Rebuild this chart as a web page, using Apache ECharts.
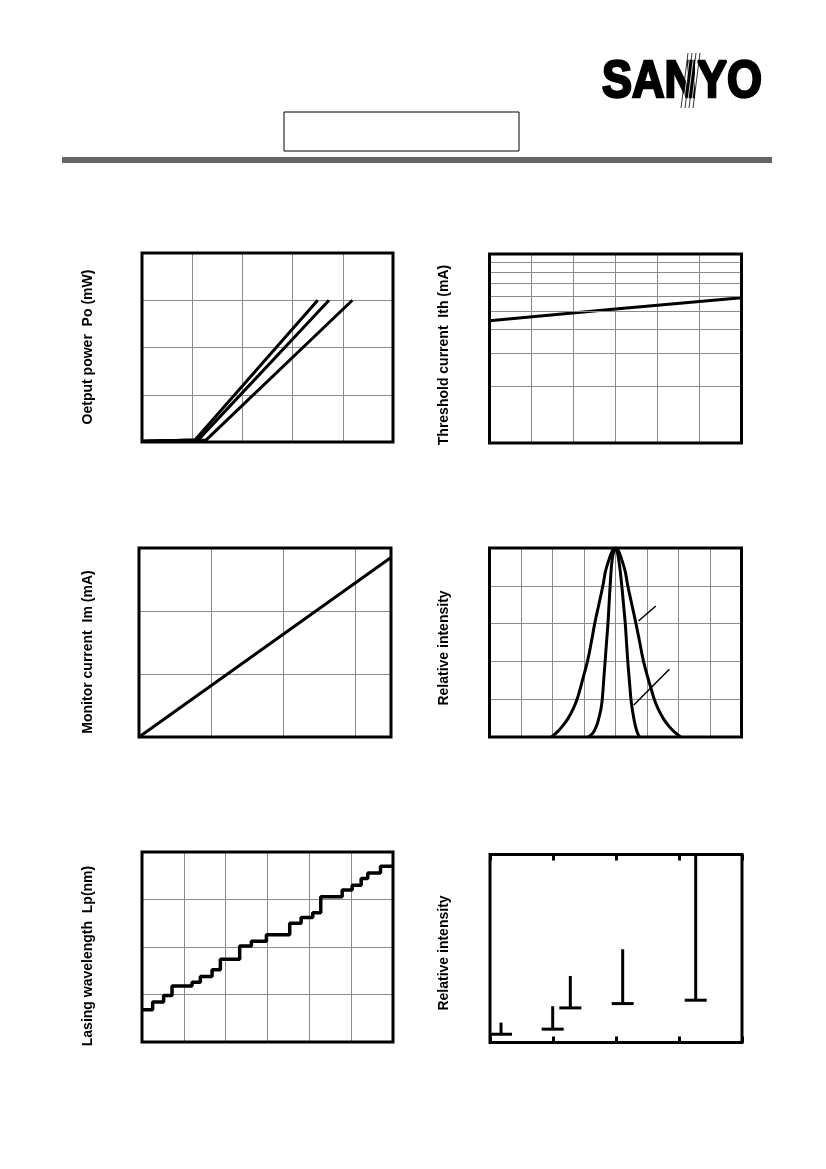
<!DOCTYPE html>
<html>
<head>
<meta charset="utf-8">
<script src="https://cdn.jsdelivr.net/npm/echarts@6/dist/echarts.min.js"></script>
<style>
html,body{margin:0;padding:0;background:#fff;}
#c{width:826px;height:1169px;}
</style>
</head>
<body>
<div id="c"></div>
<script>
// ---------- Chart 1: Output power vs forward current (three curves)
const po1 = [[0, 0.03], [21.1, 0.08], [70.0, 6]];
const po2 = [[0, 0.03], [22.3, 0.08], [74.5, 6]];
const po3 = [[0, 0.03], [25.5, 0.08], [83.8, 6]];

// ---------- Chart 2: Threshold current vs temperature (log axis)
const ithTemp = [0, 30, 60];
const ithVals = [44.4, 51.1, 58.7];
const ithMinor = [20, 30, 40, 50, 60, 70, 80, 90];

// ---------- Chart 3: Monitor current vs output power
const imPo = [0, 3.5];
const imVals = [0, 2.85];

// ---------- Chart 4: Far field pattern (relative intensity vs angle)
const wideAng = [-20.3, -18.3, -16.7, -15.0, -13.4, -12.2, -11.3, -10.5, -8.9, -7.7, -6.6, -5.3, -4.0, -2.8, 0, 2.7, 3.9, 5.2, 6.5, 7.7, 8.9, 10.5, 11.4, 12.3, 13.5, 15.1, 16.8, 18.5, 20.7];
const wideVal = [0, 0.03, 0.06, 0.1, 0.15, 0.2, 0.25, 0.3, 0.4, 0.5, 0.6, 0.7, 0.8, 0.9, 1, 0.9, 0.8, 0.7, 0.6, 0.5, 0.4, 0.3, 0.25, 0.2, 0.15, 0.1, 0.06, 0.03, 0];
const narrowAng = [-8.7, -7.2, -6.0, -5.3, -4.6, -4.2, -3.75, -3.3, -2.85, -2.4, -2.05, -1.7, -1.0, 0, 0.95, 2.0, 2.55, 3.1, 3.5, 3.9, 4.4, 4.9, 5.3, 5.8, 6.3, 6.9, 7.6];
const narrowVal = [0, 0.02, 0.06, 0.1, 0.15, 0.2, 0.3, 0.4, 0.5, 0.6, 0.7, 0.8, 0.945, 1, 0.945, 0.8, 0.7, 0.6, 0.5, 0.4, 0.3, 0.2, 0.15, 0.1, 0.06, 0.025, 0];
const leader1 = [[7.3, 0.614], [12.8, 0.693]];
const leader2 = [[5.8, 0.169], [17.1, 0.358]];

// ---------- Chart 5: Lasing wavelength vs temperature (mode hops)
const stepTemp = [0, 2.54, 5.17, 7.18, 11.96, 13.95, 16.75, 18.73, 23.35, 26.15, 29.74, 35.31, 38.04, 40.81, 42.73, 47.85, 50.24, 52.39, 53.97, 57.01, 60];
const stepWave = [783.4, 784.2, 784.9, 785.9, 786.3, 786.9, 787.6, 788.7, 790.1, 790.6, 791.3, 792.5, 793.1, 793.6, 795.3, 796.0, 796.5, 797.2, 797.8, 798.5, 798.5];

// ---------- Chart 6: Spectrum lines
const modeX = [1.75, 9.95, 12.75, 21.06, 32.65];
const modeBase = [0.044, 0.071, 0.184, 0.207, 0.225];
const modeTop = [0.106, 0.193, 0.354, 0.496, 1.0];

// ---------- Axis titles
const yNames = ['Oetput power  Po (mW)', 'Threshold current  Ith (mA)', 'Monitor current  Im (mA)', 'Relative intensity', 'Lasing wavelength  Lp(nm)', 'Relative intensity'];

// ---------- layout
const grids = [
  {left: 142, top: 253, width: 251, height: 189},
  {left: 489.5, top: 254, width: 252, height: 189},
  {left: 139, top: 548, width: 252, height: 189},
  {left: 489.5, top: 548, width: 252, height: 189},
  {left: 142, top: 852, width: 251, height: 190},
  {left: 490, top: 854.5, width: 252, height: 188}
];
const namePos = [[88, 347], [444, 355], [88, 652], [444, 648], [88, 956], [444, 953]];

const GRIDC = '#8a8a8a';
const zip = (a, b) => a.map((v, i) => [v, b[i]]);

function valAxis(gi, min, max, interval, split, extra) {
  return Object.assign({
    type: 'value', gridIndex: gi, min: min, max: max, interval: interval,
    axisLine: {show: false}, axisTick: {show: false}, axisLabel: {show: false},
    splitLine: {show: split, showMinLine: false, showMaxLine: false, lineStyle: {color: GRIDC, width: 1}}
  }, extra || {});
}

const xAxes = [
  valAxis(0, 0, 100, 20, true),
  valAxis(1, 0, 60, 10, true),
  valAxis(2, 0, 3.5, 1, true),
  valAxis(3, -40, 40, 10, true),
  valAxis(4, 0, 60, 10, true),
  valAxis(5, 0, 40, 10, false, {axisTick: {show: true, inside: true, length: 6, lineStyle: {color: '#000', width: 3}}}),
  valAxis(5, 0, 40, 10, false, {position: 'top', axisTick: {show: true, inside: true, length: 6, lineStyle: {color: '#000', width: 3}}})
];
const yAxes = [
  valAxis(0, 0, 8, 2, true),
  {type: 'log', logBase: 10, gridIndex: 1, min: 10, max: 100,
   axisLine: {show: false}, axisTick: {show: false}, axisLabel: {show: false},
   splitLine: {show: false}},
  valAxis(2, 0, 3, 1, true),
  valAxis(3, 0, 1, 0.2, true),
  valAxis(4, 780, 800, 5, true),
  valAxis(5, 0, 1, 0.2, false)
];

const lineStyleMain = {color: '#000', width: 3};
function lineSeries(xi, yi, data, extra) {
  return Object.assign({
    type: 'line', xAxisIndex: xi, yAxisIndex: yi, data: data,
    showSymbol: false, symbol: 'none', lineStyle: lineStyleMain, itemStyle: {color: '#000'},
    silent: true, animation: false
  }, extra || {});
}

const series = [
  lineSeries(0, 0, po1),
  lineSeries(0, 0, po2),
  lineSeries(0, 0, po3),
  lineSeries(1, 1, zip(ithTemp, ithVals), {
    markLine: {
      silent: true, symbol: 'none', label: {show: false}, animation: false,
      lineStyle: {color: GRIDC, width: 1, type: 'solid'},
      data: ithMinor.map(v => ({yAxis: v}))
    }
  }),
  lineSeries(2, 2, zip(imPo, imVals)),
  lineSeries(3, 3, zip(wideAng, wideVal), {smooth: 0.4}),
  lineSeries(3, 3, zip(narrowAng, narrowVal), {smooth: 0.4}),
  lineSeries(3, 3, leader1, {lineStyle: {color: '#000', width: 1.5}}),
  lineSeries(3, 3, leader2, {lineStyle: {color: '#000', width: 1.5}}),
  lineSeries(4, 4, zip(stepTemp, stepWave), {step: 'end', lineStyle: {color: '#000', width: 3.5}}),
  {
    type: 'custom', xAxisIndex: 5, yAxisIndex: 5, silent: true, animation: false,
    data: modeX.map((x, i) => [x, modeBase[i], modeTop[i]]),
    encode: {x: 0, y: [1, 2]},
    renderItem: function (params, api) {
      const b = api.coord([api.value(0), api.value(1)]);
      const t = api.coord([api.value(0), api.value(2)]);
      const hw = 11;
      return {
        type: 'group',
        children: [
          {type: 'line', shape: {x1: b[0] - hw, y1: b[1], x2: b[0] + hw, y2: b[1]}, style: {stroke: '#000', lineWidth: 3}},
          {type: 'line', shape: {x1: b[0], y1: b[1], x2: t[0], y2: t[1]}, style: {stroke: '#000', lineWidth: 3}}
        ]
      };
    }
  }
];

const graphic = [];
// frames on top
grids.forEach(g => {
  graphic.push({type: 'rect', z: 100, silent: true,
    shape: {x: g.left, y: g.top, width: g.width, height: g.height},
    style: {fill: 'none', stroke: '#000', lineWidth: 3}});
});
// axis titles
yNames.forEach((t, i) => {
  graphic.push({type: 'text', x: namePos[i][0], y: namePos[i][1], rotation: Math.PI / 2, silent: true,
    style: {text: t, font: 'bold 14px "Liberation Sans", Arial, sans-serif', fill: '#000', align: 'center', verticalAlign: 'middle'}});
});
// header
graphic.push({type: 'rect', silent: true, shape: {x: 62, y: 157, width: 710, height: 6}, style: {fill: '#666666'}});
graphic.push({type: 'rect', silent: true, shape: {x: 284, y: 112, width: 235, height: 39}, style: {fill: 'none', stroke: '#000', lineWidth: 1}});
graphic.push({type: 'text', x: 602, y: 83, scaleX: 0.865, silent: true,
  style: {text: 'SANYO', font: 'bold 52px "Liberation Sans", Arial, sans-serif', fill: '#000', stroke: '#000', lineWidth: 2.5, align: 'left', verticalAlign: 'middle'}});
for (let i = 0; i < 7; i++) {
  graphic.push({type: 'line', silent: true, z: 101,
    shape: {x1: 688 + i * 2, y1: 53, x2: 681 + i * 2, y2: 108},
    style: {stroke: i % 2 ? '#fff' : '#000', lineWidth: 0.8}});
}

const chart = echarts.init(document.getElementById('c'), null, {renderer: 'canvas'});
chart.setOption({
  backgroundColor: '#fff',
  animation: false,
  grid: grids.map(g => Object.assign({show: false, containLabel: false}, g)),
  xAxis: xAxes,
  yAxis: yAxes,
  series: series,
  graphic: graphic
});
</script>
</body>
</html>
